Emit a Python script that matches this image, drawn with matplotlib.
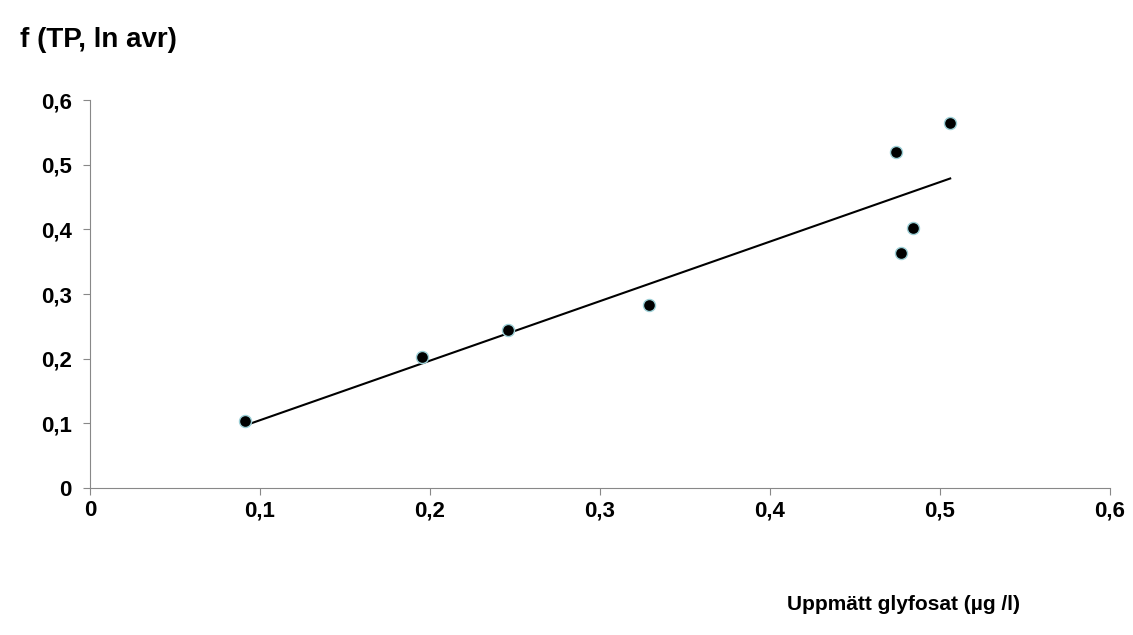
import matplotlib
matplotlib.use("Agg")
import matplotlib.pyplot as plt
import numpy as np

x_vals = [0.091, 0.195, 0.246, 0.329, 0.474, 0.477, 0.484, 0.506]
y_vals = [0.104, 0.202, 0.244, 0.283, 0.520, 0.363, 0.402, 0.564]
ticks = [0, 0.1, 0.2, 0.3, 0.4, 0.5, 0.6]
tick_labels = ["0", "0,1", "0,2", "0,3", "0,4", "0,5", "0,6"]

plt.rcParams['font.family'] = ['Liberation Sans', 'DejaVu Sans']
fig = plt.figure(figsize=(11.33, 6.35), dpi=100)
ax = fig.add_axes([90/1133, 1-488/635, 1020/1133, 388/635])

coef = np.polyfit(x_vals, y_vals, 1)
xl = np.array([min(x_vals), max(x_vals)])
ax.plot(xl, np.polyval(coef, xl), color='black', lw=1.5)
ax.scatter(x_vals, y_vals, s=75, color='black', edgecolor='#9ccfd6', linewidth=1, zorder=3)

ax.set_xlim(0, 0.6); ax.set_ylim(0, 0.6)
ax.set_xticks(ticks); ax.set_xticklabels(tick_labels)
ax.set_yticks(ticks); ax.set_yticklabels(tick_labels)
for s in ['top', 'right']:
    ax.spines[s].set_visible(False)
for s in ['left', 'bottom']:
    ax.spines[s].set_color('#888888')
ax.tick_params(direction='out', length=5, color='#888888', labelsize=16)
ax.tick_params(axis='x', pad=4)
ax.tick_params(axis='y', pad=8)
for lab in ax.get_xticklabels() + ax.get_yticklabels():
    lab.set_fontweight('bold')

fig.text(20/1133, 1-40/635, "f (TP, ln avr)", fontsize=20, fontweight='bold', va='center')
fig.text(1020/1133, 1-605/635, "Uppmätt glyfosat (µg /l)", fontsize=15, fontweight='bold', va='center', ha='right')
fig.savefig("out.png", dpi=100)
